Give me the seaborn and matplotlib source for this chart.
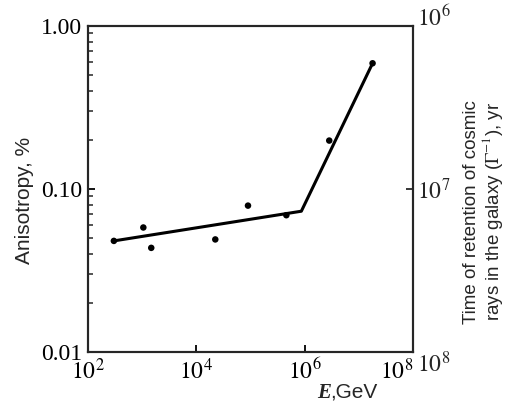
import numpy as np
import pandas as pd
import seaborn as sns
import matplotlib.pyplot as plt
from matplotlib.ticker import FixedLocator, FixedFormatter, LogLocator, NullLocator

# measured anisotropy points
energy = [300, 1050, 1470, 22400, 90000, 460000, 2.85e6, 1.8e7]
anisotropy = [0.048, 0.058, 0.0435, 0.049, 0.079, 0.069, 0.198, 0.59]

# broken power-law fit
fit_energy = [300, 8.7e5, 1.8e7]
fit_anisotropy = [0.048, 0.073, 0.59]

x_ticks = [1e2, 1e4, 1e6, 1e8]
x_labels = [r"$10^{2}$", r"$10^{4}$", r"$10^{6}$", r"$10^{8}$"]
y_ticks = [0.01, 0.1, 1.0]
y_labels = ["0.01", "0.10", "1.00"]
t_ticks = [1e6, 1e7, 1e8]
t_labels = [r"$10^{6}$", r"$10^{7}$", r"$10^{8}$"]

pts = pd.DataFrame({"E": energy, "A": anisotropy})
fit = pd.DataFrame({"E": fit_energy, "A": fit_anisotropy})

sns.set_style("ticks")
plt.rcParams["font.family"] = ["Liberation Serif", "DejaVu Serif"]
plt.rcParams["mathtext.fontset"] = "stix"

fig = plt.figure(figsize=(5.06, 4.05), dpi=100)
ax = fig.add_axes([0.174, 0.131, 0.642, 0.805])

sns.lineplot(data=fit, x="E", y="A", ax=ax, color="black", lw=2.2)
sns.scatterplot(data=pts, x="E", y="A", ax=ax, color="black", s=22, edgecolor="none", zorder=3)

ax.set_xscale("log")
ax.set_yscale("log")
ax.set_xlim(1e2, 1e8)
ax.set_ylim(0.01, 1.0)

ax.xaxis.set_major_locator(FixedLocator(x_ticks))
ax.xaxis.set_major_formatter(FixedFormatter(x_labels))
ax.xaxis.set_minor_locator(NullLocator())
ax.yaxis.set_major_locator(FixedLocator(y_ticks))
ax.yaxis.set_major_formatter(FixedFormatter(y_labels))
ax.yaxis.set_minor_locator(LogLocator(base=10, subs=np.arange(2, 10)))

ax.tick_params(axis="both", which="major", direction="in", length=5, width=1.3,
               labelsize=17, colors="black")
ax.tick_params(axis="y", which="minor", direction="in", length=3.5, width=1.1)
ax.tick_params(axis="x", which="major", pad=5)
ax.tick_params(axis="y", which="major", pad=4)

for s in ax.spines.values():
    s.set_visible(True)
    s.set_linewidth(1.5)
    s.set_color("black")

ax.set_xlabel("")
ax.set_ylabel("Anisotropy, %", family="Liberation Sans", fontsize=15)
ax.yaxis.set_label_coords(-0.165, 0.466)

# right axis: retention time (inverse scale)
ax2 = ax.twinx()
ax2.set_yscale("log")
ax2.set_ylim(1e8, 1e6)
ax2.yaxis.set_major_locator(FixedLocator(t_ticks))
ax2.yaxis.set_major_formatter(FixedFormatter(t_labels))
ax2.yaxis.set_minor_locator(NullLocator())
ax2.tick_params(axis="y", which="major", direction="in", length=5, width=1.3,
                labelsize=17, pad=3)
ax2.set_ylabel("Time of retention of cosmic\nrays in the galaxy ($\\Gamma^{-1}$), yr",
               family="Liberation Sans", fontsize=13.5, linespacing=1.0)
ax2.yaxis.set_label_coords(1.155, 0.43)
for s in ax2.spines.values():
    s.set_linewidth(1.5)

# nudge end labels like the original print
fig.canvas.draw()
ax.xaxis.get_major_ticks()[-1].label1.set_horizontalalignment("right")
rticks = ax2.yaxis.get_major_ticks()
rticks[0].label2.set_verticalalignment("baseline")
rticks[-1].label2.set_verticalalignment("top")

fig.text(0.626, 0.018, "E", family="Liberation Serif", style="italic",
         weight="bold", fontsize=15)
fig.text(0.652, 0.018, ",GeV", family="Liberation Sans", fontsize=15)

fig.savefig("out.png", dpi=100)
